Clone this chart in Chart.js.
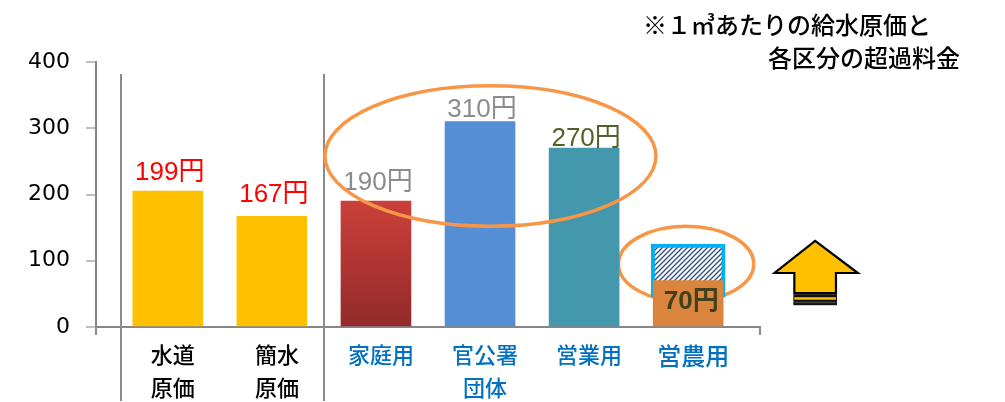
<!DOCTYPE html>
<html lang="ja">
<head>
<meta charset="utf-8">
<script src="https://cdn.jsdelivr.net/npm/chart.js@4.4.1/dist/chart.umd.min.js"></script>
<style>
  html, body { margin: 0; padding: 0; background: #fff; }
  #wrap { width: 1005px; height: 402px; }
</style>
</head>
<body>
<div id="wrap"><canvas id="costchart"></canvas></div>
<script>
// data
const categories = [['水道', '原価'], ['簡水', '原価'], '家庭用', ['官公署', '団体'], '営業用', '営農用'];
const barValues = [205, 167, 190, 310, 270, 70];
const priceLabels = ['199円', '167円', '190円', '310円', '270円', '70円'];
const targetRange = [45, 125];   // hatched box above 営農用
const yTicks = [0, 100, 200, 300, 400];
const titleLines = ['※１㎥あたりの給水原価と', '各区分の超過料金'];

// styles
const barColors = ['#FFC000', '#FFC000', 'red-gradient', '#558ED5', '#4398AE', '#DB843D'];
const labelColors = ['#FF0000', '#FF0000', '#8C8C8C', '#8C8C8C', '#4F6228', '#403F1E'];
const labelLift = [18, 22, 18, 12, 9];
const jp = '"Noto Sans CJK JP", sans-serif';
const num = '"Liberation Sans", Arial, "Noto Sans CJK JP", sans-serif';

const canvas = document.getElementById('costchart');

function hatchPattern() {
    const c = document.createElement('canvas');
    c.width = 5; c.height = 5;
    const g = c.getContext('2d');
    g.fillStyle = '#fff';
    g.fillRect(0, 0, 5, 5);
    g.strokeStyle = '#34508A';
    g.lineWidth = 1.4;
    g.beginPath();
    g.moveTo(-1, 6); g.lineTo(6, -1);
    g.moveTo(-1, 1); g.lineTo(1, -1);
    g.moveTo(4, 6); g.lineTo(6, 4);
    g.stroke();
    return canvas.getContext('2d').createPattern(c, 'repeat');
}

function ellipse(ctx, x, y, x0, x1, v0, v1) {
    const px0 = x.getPixelForValue(x0), px1 = x.getPixelForValue(x1);
    const py0 = y.getPixelForValue(v1), py1 = y.getPixelForValue(v0);
    ctx.save();
    ctx.strokeStyle = '#F79646';
    ctx.lineWidth = 3.5;
    ctx.beginPath();
    ctx.ellipse((px0 + px1) / 2, (py0 + py1) / 2, (px1 - px0) / 2, (py1 - py0) / 2, 0, 0, Math.PI * 2);
    ctx.stroke();
    ctx.restore();
}

const decorations = {
    id: 'decorations',
    beforeDatasetsDraw(chart) {
        const { ctx, scales: { x, y } } = chart;
        // small ring sits behind the 営農用 bar
        ellipse(ctx, x, y, 4.33, 5.63, 38, 152);
    },
    afterDatasetsDraw(chart) {
        const { ctx, chartArea, scales: { x, y } } = chart;
        ctx.save();

        // group separators
        ctx.strokeStyle = '#8C8C8C';
        ctx.lineWidth = 2;
        [-0.45, 1.5].forEach(v => {
            const px = Math.round(x.getPixelForValue(v));
            ctx.beginPath();
            ctx.moveTo(px, y.getPixelForValue(382));
            ctx.lineTo(px, 401);
            ctx.stroke();
        });
        // little end ticks under the x axis
        [chartArea.left, chartArea.right].forEach(px => {
            ctx.beginPath();
            ctx.moveTo(px, chartArea.bottom);
            ctx.lineTo(px, chartArea.bottom + 8);
            ctx.stroke();
        });

        // value labels
        const meta = chart.getDatasetMeta(0);
        ctx.textAlign = 'center';
        ctx.textBaseline = 'middle';
        meta.data.forEach((bar, i) => {
            ctx.fillStyle = labelColors[i];
            if (i === 5) {
                ctx.font = 'bold 26px ' + num;
                ctx.fillText(priceLabels[i], bar.x + 3, (bar.y + bar.base) / 2 - 1);
            } else {
                ctx.font = '26px ' + num;
                ctx.fillText(priceLabels[i], bar.x + 2, bar.y - labelLift[i]);
            }
        });

        // big ring round the three user bars
        ellipse(ctx, x, y, 1.51, 4.69, 152, 364);

        // up arrow
        const ax = v => x.getPixelForValue(v);
        const ay = v => y.getPixelForValue(v);
        const tip = ax(6.22), wl = ax(5.83), wr = ax(6.63), sl = ax(6.02), sr = ax(6.42);
        const yTip = ay(130), yWing = ay(81.5), yShaft = ay(51);
        ctx.fillStyle = '#FFC000';
        ctx.strokeStyle = '#000';
        ctx.lineWidth = 2.2;
        ctx.lineJoin = 'miter';
        ctx.beginPath();
        ctx.moveTo(tip, yTip);
        ctx.lineTo(wr, yWing);
        ctx.lineTo(sr, yWing);
        ctx.lineTo(sr, yShaft);
        ctx.lineTo(sl, yShaft);
        ctx.lineTo(sl, yWing);
        ctx.lineTo(wl, yWing);
        ctx.closePath();
        ctx.fill();
        ctx.stroke();
        ctx.fillStyle = '#111';
        ctx.fillRect(sl - 1, yShaft + 1, sr - sl + 2, 11);
        ctx.fillStyle = '#FFC000';
        ctx.fillRect(sl, yShaft + 4, sr - sl, 2.5);
        ctx.fillStyle = '#444';
        ctx.fillRect(sl, yShaft + 8.5, sr - sl, 1.5);

        // note in the top right
        ctx.fillStyle = '#000';
        ctx.font = '500 24px ' + jp;
        ctx.textAlign = 'left';
        ctx.fillText(titleLines[0], 643, 25);
        ctx.fillText(titleLines[1], 768, 58);
        ctx.restore();
    }
};

new Chart(canvas, {
    type: 'bar',
    data: {
        datasets: [{
            data: barValues.map((v, i) => ({ x: i, y: v })),
            backgroundColor: ctx => {
                const c = barColors[ctx.dataIndex];
                if (c !== 'red-gradient') return c;
                const area = ctx.chart.chartArea;
                if (!area) return '#C0392B';
                const ys = ctx.chart.scales.y;
                const g = ctx.chart.ctx.createLinearGradient(0, ys.getPixelForValue(190), 0, ys.getPixelForValue(0));
                g.addColorStop(0, '#CB403A');
                g.addColorStop(1, '#932A2B');
                return g;
            },
            barThickness: 70,
            grouped: false,
            order: 1
        }, {
            data: [{ x: 5, y: targetRange }],
            backgroundColor: hatchPattern(),
            borderColor: '#00B0F0',
            borderWidth: 4,
            borderSkipped: false,
            barThickness: 74,
            grouped: false,
            order: 2
        }]
    },
    options: {
        responsive: true,
        maintainAspectRatio: false,
        animation: false,
        layout: { padding: { top: 62, right: 245, left: 0, bottom: 0 } },
        plugins: {
            legend: { display: false },
            tooltip: { enabled: false }
        },
        scales: {
            x: {
                type: 'linear',
                min: -0.69,
                max: 5.69,
                offset: false,
                afterFit: s => { s.height = 75; },
                border: { color: '#868686', width: 2 },
                grid: { display: true, drawOnChartArea: false, drawTicks: false, offset: false },
                ticks: {
                    stepSize: 1,
                    includeBounds: false,
                    autoSkip: false,
                    maxRotation: 0,
                    padding: 11,
                    labelOffset: 5,
                    color: ctx => ctx.index < 2 ? '#000' : '#0070C0',
                    font: ctx => ({ family: jp, size: ctx.index === 5 ? 24 : 22, weight: 500, lineHeight: 1.5 }),
                    callback: v => categories[v] !== undefined ? categories[v] : ''
                }
            },
            y: {
                min: yTicks[0],
                max: yTicks[yTicks.length - 1],
                afterFit: s => { s.width = 96; },
                border: { color: '#868686', width: 2 },
                grid: { drawOnChartArea: false, tickLength: 10, color: '#C0C0C0', lineWidth: 2 },
                afterBuildTicks: s => { s.ticks = yTicks.map(v => ({ value: v })); },
                ticks: {
                    padding: 16,
                    color: '#000',
                    font: { family: '"DejaVu Sans", sans-serif', size: 22 }
                }
            }
        }
    },
    plugins: [decorations]
});
</script>
</body>
</html>
